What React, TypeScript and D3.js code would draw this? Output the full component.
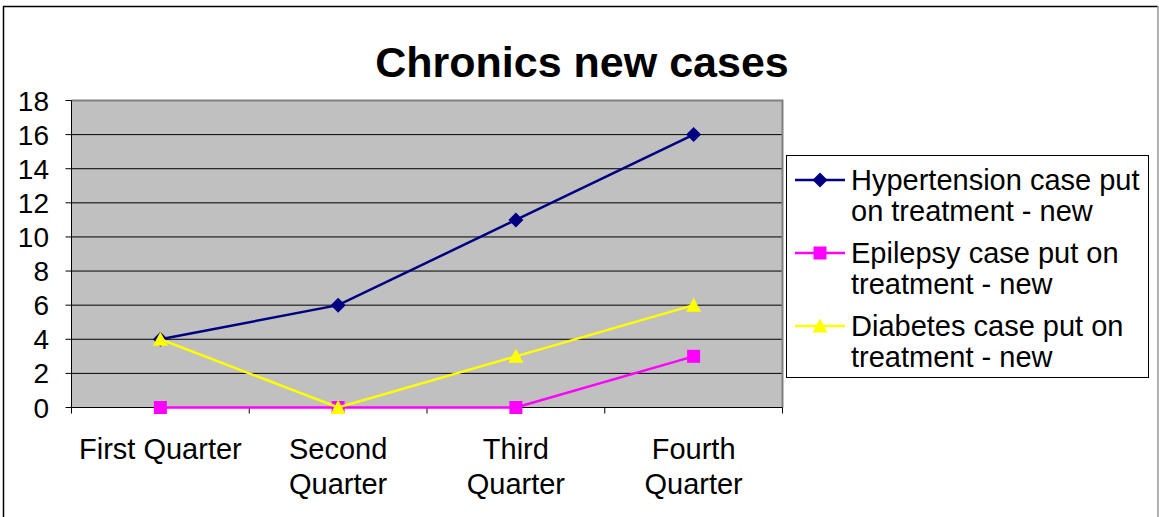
import React from "react";
import * as d3 from "d3";

const categories: string[][] = [["First Quarter"], ["Second", "Quarter"], ["Third", "Quarter"], ["Fourth", "Quarter"]];
const hypertension = [4, 6, 11, 16];
const epilepsy = [0, 0, 0, 3];
const diabetes = [4, 0, 3, 6];
const yTicks = [0, 2, 4, 6, 8, 10, 12, 14, 16, 18];
const seriesNames: string[][] = [
  ["Hypertension case put", "on treatment - new"],
  ["Epilepsy case put on", "treatment - new"],
  ["Diabetes case put on", "treatment - new"],
];

const W = 1159;
const H = 517;
const plot = { left: 71.5, right: 782.5, top: 100.5, bottom: 407.5 };
const FONT = "Liberation Sans, Arial, sans-serif";

function marker(kind: string, cx: number, cy: number, color: string, key: string) {
  if (kind === "diamond") {
    const s = 7.5;
    return <path key={key} d={`M${cx},${cy - s}L${cx + s},${cy}L${cx},${cy + s}L${cx - s},${cy}Z`} fill={color} />;
  }
  if (kind === "square") {
    const s = 6.5;
    return <rect key={key} x={cx - s} y={cy - s} width={2 * s} height={2 * s} fill={color} />;
  }
  const s = 7.5;
  return <path key={key} d={`M${cx},${cy - s}L${cx + s},${cy + s - 1}L${cx - s},${cy + s - 1}Z`} fill={color} />;
}

export default function App() {
  const x = d3.scaleBand<number>().domain(d3.range(categories.length)).range([plot.left, plot.right]);
  const y = d3.scaleLinear().domain([0, 18]).range([plot.bottom, plot.top]);
  const series = [
    { values: hypertension, color: "#000080", kind: "diamond" },
    { values: epilepsy, color: "#FF00FF", kind: "square" },
    { values: diabetes, color: "#FFFF00", kind: "triangle" },
  ];
  const line = d3
    .line<number>()
    .x((_, i) => x(i)! + x.bandwidth() / 2)
    .y((d) => y(d));
  const bounds = d3.range(categories.length + 1).map((i) => plot.left + i * x.bandwidth());

  const legend = { x: 786.5, y: 155.5, w: 362, h: 222 };
  const entryY = [180, 253, 326];

  return (
    <div style={{ position: "absolute", left: 0, top: 0 }}>
      <svg width={W} height={H} style={{ display: "block" }} fontFamily={FONT}>
        <rect x={0} y={0} width={W} height={H} fill="#fff" />
        <path d={`M3.5,${H + 5}V6.5H1158`} fill="none" stroke="#000" strokeWidth={1.5} />
        <line x1={1158} y1={6} x2={1158} y2={H} stroke="#999" strokeWidth={1.5} />
        <text x={582} y={77} textAnchor="middle" fontSize={43} fontWeight="bold">
          Chronics new cases
        </text>
        <rect x={plot.left} y={plot.top} width={plot.right - plot.left} height={plot.bottom - plot.top} fill="#C0C0C0" />
        {yTicks.slice(1, -1).map((t) => (
          <line key={t} x1={plot.left} x2={plot.right} y1={y(t)} y2={y(t)} stroke="#000" strokeWidth={1} />
        ))}
        <path d={`M${plot.left},${plot.top}H${plot.right}V${plot.bottom}`} fill="none" stroke="#808080" strokeWidth={2} />
        <line x1={plot.left} x2={plot.left} y1={plot.top} y2={plot.bottom} stroke="#000" />
        <line x1={plot.left} x2={plot.right} y1={plot.bottom} y2={plot.bottom} stroke="#000" />
        {yTicks.map((t) => (
          <g key={t}>
            <line x1={plot.left - 6} x2={plot.left} y1={y(t)} y2={y(t)} stroke="#000" />
            <text x={49} y={y(t) + 10} textAnchor="end" fontSize={28}>
              {t}
            </text>
          </g>
        ))}
        {bounds.map((b, i) => (
          <line key={i} x1={b} x2={b} y1={plot.bottom} y2={plot.bottom + 6} stroke="#000" />
        ))}
        {categories.map((lines, i) =>
          lines.map((l, j) => (
            <text key={`${i}-${j}`} x={x(i)! + x.bandwidth() / 2} y={459 + j * 35} textAnchor="middle" fontSize={29}>
              {l}
            </text>
          ))
        )}
        {series.map((s, si) => (
          <g key={si}>
            <path d={line(s.values)!} fill="none" stroke={s.color} strokeWidth={2.5} />
            {s.values.map((v, i) => marker(s.kind, x(i)! + x.bandwidth() / 2, y(v), s.color, `${si}-${i}`))}
          </g>
        ))}
        <rect x={legend.x} y={legend.y} width={legend.w} height={legend.h} fill="#fff" stroke="#000" />
        {series.map((s, si) => (
          <g key={si}>
            <line x1={795} x2={845} y1={entryY[si]} y2={entryY[si]} stroke={s.color} strokeWidth={2.5} />
            {marker(s.kind, 820, entryY[si], s.color, `l${si}`)}
            {seriesNames[si].map((t, j) => (
              <text key={j} x={851} y={entryY[si] + 10 + j * 31} fontSize={29}>
                {t}
              </text>
            ))}
          </g>
        ))}
      </svg>
    </div>
  );
}
